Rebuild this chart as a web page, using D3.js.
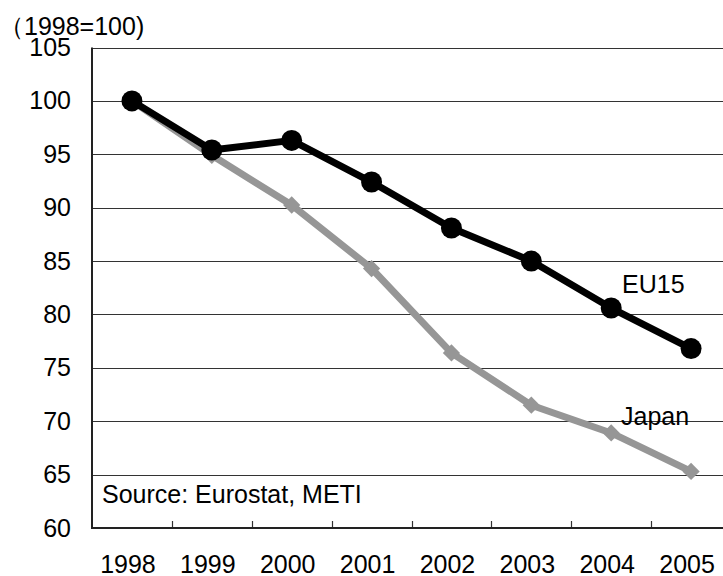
<!DOCTYPE html>
<html><head><meta charset="utf-8">
<script src="https://cdn.jsdelivr.net/npm/d3@7/dist/d3.min.js"></script>
<style>html,body{margin:0;padding:0;background:#fff;}svg{display:block;}text{font-family:"Liberation Sans",Arial,sans-serif;fill:#000;}</style>
</head><body><div id="chart"></div>
<script>
const years = ["1998","1999","2000","2001","2002","2003","2004","2005"];
const eu15 = [100, 95.4, 96.3, 92.4, 88.1, 85.0, 80.6, 76.8];
const japan = [100, 94.9, 90.25, 84.3, 76.4, 71.5, 68.9, 65.3];
const yTicks = [60, 65, 70, 75, 80, 85, 90, 95, 100, 105];

const W = 723, H = 576;
const svg = d3.select("#chart").append("svg").attr("width", W).attr("height", H);
const pLeft = 92, pRight = 731, pTop = 47.5, pBottom = 528;
const x = d3.scaleBand().domain(years).range([pLeft, pRight]);
const y = d3.scaleLinear().domain([60, 105]).range([pBottom, pTop]);
const cx = d => x(d) + x.bandwidth() / 2;

// gridlines
svg.append("g").selectAll("line").data(yTicks.filter(t => t > 60)).join("line")
  .attr("x1", pLeft).attr("x2", pRight)
  .attr("y1", d => Math.round(y(d)) + 0.5).attr("y2", d => Math.round(y(d)) + 0.5)
  .attr("stroke", "#333").attr("stroke-width", 1.2);

// y axis labels
const yAxis = d3.axisLeft(y).tickValues(yTicks).tickSize(0).tickPadding(21);
const gy = svg.append("g").attr("transform", `translate(${pLeft},0)`).call(yAxis);
gy.select(".domain").remove();
gy.selectAll("text").attr("font-size", 25).attr("font-family", "Liberation Sans, Arial, sans-serif").attr("fill", "#000");

// x axis
const xAxis = d3.axisBottom(x).tickSize(0).tickPadding(27);
const gx = svg.append("g").attr("transform", `translate(0,${pBottom})`).call(xAxis);
gx.select(".domain").remove();
gx.selectAll("text").attr("font-size", 25).attr("dx", -4).attr("font-family", "Liberation Sans, Arial, sans-serif").attr("fill", "#000");

// category separator ticks (inward)
svg.append("g").selectAll("line").data(years.slice(1)).join("line")
  .attr("x1", d => Math.round(x(d)) + 0.5).attr("x2", d => Math.round(x(d)) + 0.5)
  .attr("y1", pBottom).attr("y2", pBottom - 7)
  .attr("stroke", "#333").attr("stroke-width", 1.2);

// axis lines
svg.append("line").attr("x1", pLeft).attr("x2", pLeft).attr("y1", pTop).attr("y2", pBottom + 1)
  .attr("stroke", "#222").attr("stroke-width", 2);
svg.append("line").attr("x1", pLeft).attr("x2", pRight).attr("y1", pBottom).attr("y2", pBottom)
  .attr("stroke", "#222").attr("stroke-width", 2);

const line = d3.line().x((d, i) => cx(years[i])).y(d => y(d));

// Japan
svg.append("path").datum(japan).attr("d", line).attr("fill", "none")
  .attr("stroke", "#969696").attr("stroke-width", 7).attr("stroke-linejoin", "round");
svg.append("g").selectAll("path").data(japan).join("path")
  .attr("d", d3.symbol(d3.symbolDiamond2, 190))
  .attr("transform", (d, i) => `translate(${cx(years[i])},${y(d)})`)
  .attr("fill", "#969696");

// EU15
svg.append("path").datum(eu15).attr("d", line).attr("fill", "none")
  .attr("stroke", "#000").attr("stroke-width", 7).attr("stroke-linejoin", "round");
svg.append("g").selectAll("circle").data(eu15).join("circle")
  .attr("cx", (d, i) => cx(years[i])).attr("cy", d => y(d)).attr("r", 10.5)
  .attr("fill", "#000");

// labels
svg.append("text").attr("x", 622).attr("y", 293).attr("font-size", 25).text("EU15");
svg.append("text").attr("x", 621).attr("y", 425).attr("font-size", 25).text("Japan");
svg.append("text").attr("x", 102).attr("y", 503).attr("font-size", 25).text("Source: Eurostat, METI");
svg.append("text").attr("x", -1).attr("y", 35).attr("font-size", 25).text("（1998=100)");
</script></body></html>
